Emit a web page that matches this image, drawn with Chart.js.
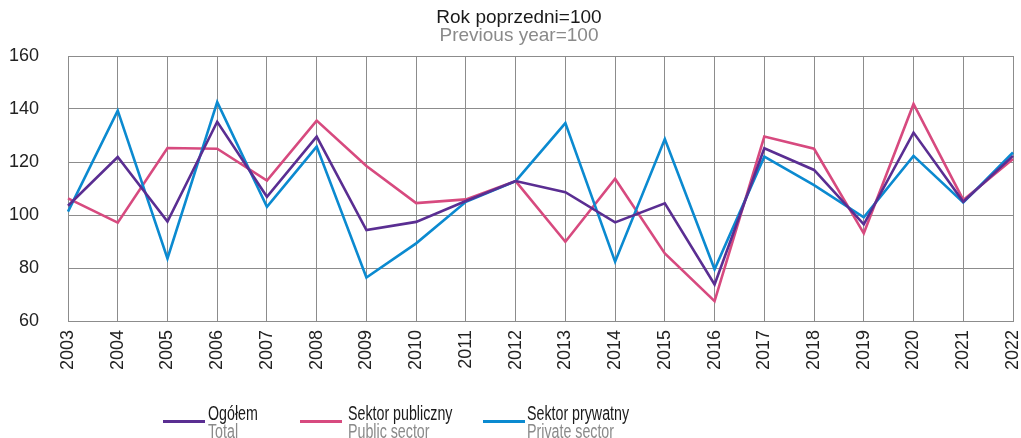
<!DOCTYPE html>
<html>
<head>
<meta charset="utf-8">
<script src="https://cdn.jsdelivr.net/npm/chart.js@4/dist/chart.umd.min.js"></script>
<style>
  html, body { margin: 0; padding: 0; background: #fff; }
  #wrap { position: relative; width: 1021px; height: 438px; overflow: hidden; font-family: "Liberation Sans", Arial, sans-serif; }
  #c { position: absolute; left: 0; top: 0; }
  .title { position: absolute; left: 0; width: 1038px; text-align: center; font-size: 19px; line-height: 18px; }
  .leg { position: absolute; font-family: "Liberation Sans", Arial, sans-serif; font-size: 19.5px; line-height: 18px; transform: scaleX(0.73); transform-origin: 0 0; white-space: nowrap; }
  .leg .l1 { color: #1a1a1a; }
  .leg .l2 { color: #8a8a8a; }
  .swatch { position: absolute; height: 3px; }
</style>
</head>
<body>
<div id="wrap">
  <canvas id="c" width="1021" height="438"></canvas>
  <div class="title" style="top:8px;color:#1a1a1a;">Rok poprzedni=100</div>
  <div class="title" style="top:26px;color:#8a8a8a;">Previous year=100</div>
  <div id="legend"></div>
</div>
<script>
const years = ["2003","2004","2005","2006","2007","2008","2009","2010","2011","2012","2013","2014","2015","2016","2017","2018","2019","2020","2021","2022"];
const totalValues   = [103.5,121.9,97.5,135.2,106.9,129.6,94.3,97.4,105.3,112.8,108.6,97.2,104.4,73.8,125.2,117.0,96.5,131.1,105.0,122.3];
const publicValues  = [106.3,97.1,125.3,125.0,113.0,135.6,118.5,104.5,105.9,112.8,89.9,113.7,85.5,67.5,129.6,125.0,93.1,141.9,105.7,121.1];
const privateValues = [101.3,139.4,83.6,142.6,103.1,125.8,76.4,89.3,105.0,112.8,134.7,82.4,128.7,79.5,122.0,111.3,99.1,122.3,104.7,123.6];
const yTicks = [60,80,100,120,140,160];
const seriesNamesPL = ["Ogółem","Sektor publiczny","Sektor prywatny"];
const seriesNamesEN = ["Total","Public sector","Private sector"];
const seriesColors = ["#5a2e92","#d74a7f","#0b8ad0"];

const seriesData = [totalValues, publicValues, privateValues];
const datasets = seriesData.map((d, i) => ({
  label: seriesNamesPL[i],
  data: d,
  borderColor: seriesColors[i],
  backgroundColor: seriesColors[i],
  borderWidth: 2.6,
  pointRadius: 0,
  tension: 0,
  fill: false
}));
datasets[0].order = 0; datasets[1].order = 2; datasets[2].order = 1;

new Chart(document.getElementById('c'), {
  type: 'line',
  data: { labels: years, datasets },
  options: {
    responsive: false,
    animation: false,
    devicePixelRatio: 1,
    layout: { padding: { top: 56, right: 8, left: 0, bottom: 0 } },
    plugins: { legend: { display: false }, title: { display: false }, tooltip: { enabled: false } },
    scales: {
      x: {
        offset: false,
        grid: { color: '#8c8c8c', lineWidth: 1, drawTicks: false },
        border: { color: '#8c8c8c', width: 1 },
        ticks: { color: '#222', font: { family: 'Liberation Sans', size: 18 }, minRotation: 90, maxRotation: 90, padding: 9, autoSkip: false },
        afterFit: (s) => { s.height = 117; s.paddingLeft = 0; s.paddingRight = 0; }
      },
      y: {
        min: 60, max: 160,
        afterBuildTicks: (s) => { s.ticks = yTicks.map(v => ({ value: v })); },
        grid: { color: '#8c8c8c', lineWidth: 1, drawTicks: false },
        border: { color: '#8c8c8c', width: 1 },
        ticks: { color: '#222', font: { family: 'Liberation Sans', size: 18 }, padding: 29 },
        afterFit: (s) => { s.width = 68; s.paddingTop = 0; s.paddingBottom = 0; }
      }
    }
  }
});

const legPos = [{line: 163, text: 208}, {line: 300, text: 348}, {line: 483, text: 527}];
const legend = document.getElementById('legend');
seriesNamesPL.forEach((name, i) => {
  const sw = document.createElement('div');
  sw.className = 'swatch';
  sw.style.left = legPos[i].line + 'px';
  sw.style.width = '42px';
  sw.style.top = '420px';
  sw.style.background = seriesColors[i];
  legend.appendChild(sw);
  const t = document.createElement('div');
  t.className = 'leg';
  t.style.left = legPos[i].text + 'px';
  t.style.top = '404px';
  t.innerHTML = '<div class="l1">' + name + '</div><div class="l2">' + seriesNamesEN[i] + '</div>';
  legend.appendChild(t);
});
</script>
</body>
</html>
